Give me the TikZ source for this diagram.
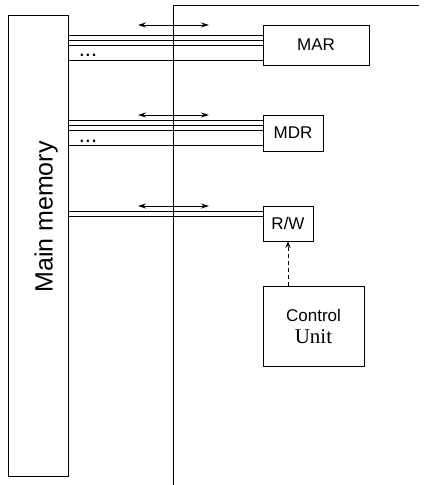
\documentclass[tikz,border=0pt]{standalone}
\usepackage{fontspec}
\setmainfont{Liberation Sans}
\newfontfamily\timesf{Liberation Serif}
\usetikzlibrary{arrows.meta}
\begin{document}
\begin{tikzpicture}[x=1pt,y=-1pt,line width=0.9pt,
  box/.style={draw, inner sep=0pt, outer sep=0pt, anchor=north west, font=\fontsize{17}{20}\selectfont},
  bus/.style={line width=0.9pt},
  dotlbl/.style={font=\fontsize{22}{24}\selectfont, inner sep=0pt, anchor=base},
  dbl/.style={{Stealth[length=8pt,width=5pt]}-{Stealth[length=8pt,width=5pt]}, line width=0.9pt}]
\useasboundingbox (0,0) rectangle (442,485);
% nodes
\node[box, minimum width=60pt, minimum height=461pt] (mem) at (8,15) {};
\node[rotate=90, anchor=base, font=\fontsize{25}{30}\selectfont] (memlbl) at (52.5,217) {Main memory};
\node[box, minimum width=106pt, minimum height=40pt] (mar) at (263,25) {MAR};
\node[box, minimum width=60pt, minimum height=36pt] (mdr) at (263,115) {MDR};
\node[box, minimum width=50pt, minimum height=35pt] (rw) at (263,206) {R/W};
\node[box, minimum width=101pt, minimum height=80pt, align=center] (cu) at (263,286)
  {Control\\[2pt]{\timesf\fontsize{21}{24}\selectfont Unit}};
% system bus line
\coordinate (vt) at (173,5);
\coordinate (vb) at (173,485);
\coordinate (tr) at (419,5);
\draw (tr) -- (vt) -- (vb);
% bus lines
\foreach \yy in {35,40,45,60}{
  \coordinate (c) at (0,\yy);
  \draw[bus] (mem.east |- c) -- (mar.west |- c);
}
\foreach \yy in {120.7,125.7,130.7,145}{
  \coordinate (c) at (0,\yy);
  \draw[bus] (mem.east |- c) -- (mdr.west |- c);
}
\foreach \yy in {211,216}{
  \coordinate (c) at (0,\yy);
  \draw[bus] (mem.east |- c) -- (rw.west |- c);
}
% dots
\node[dotlbl] (d1) at (88,56) {...};
\node[dotlbl] (d2) at (88,142) {...};
% arrows
\coordinate (a1l) at (138,25); \coordinate (a1r) at (209,25);
\coordinate (a2l) at (138,115); \coordinate (a2r) at (209,115);
\coordinate (a3l) at (138,206); \coordinate (a3r) at (209,206);
\draw[dbl] (a1l) -- (a1r);
\draw[dbl] (a2l) -- (a2r);
\draw[dbl] (a3l) -- (a3r);
% control
\coordinate (cx) at (288,0);
\draw[dashed, dash pattern=on 4pt off 3pt, -{Stealth[length=7pt,width=5pt]}] (cu.north -| cx) -- (rw.south -| cx);
\end{tikzpicture}
\end{document}
